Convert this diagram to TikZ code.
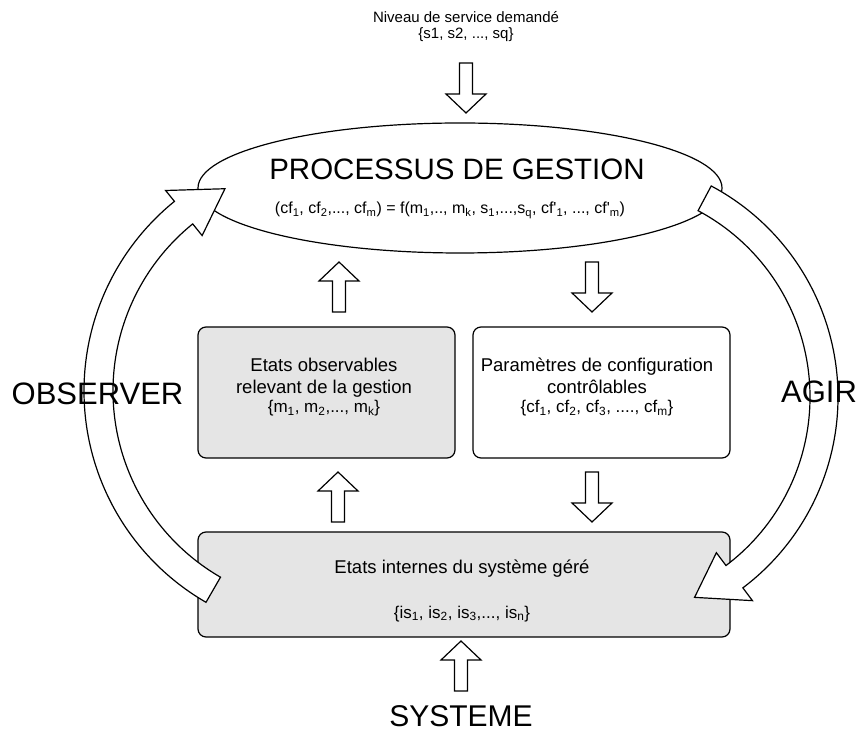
\documentclass[tikz,border=0pt]{standalone}
\usepackage{fontspec}
\setmainfont{Liberation Sans}
\usetikzlibrary{shapes.geometric}
\newcommand{\fs}[2]{\fontsize{#1}{#2}\selectfont}
\newcommand{\ix}[1]{\textsubscript{#1}}
\tikzset{
  shp/.style={draw,line width=1.2pt,fill=white},
  box/.style={shp,rounded corners=8pt,fill=black!10,inner sep=0pt},
  upblk/.pic={\draw[shp,line join=miter] (-6.5,0)--(-6.5,31)--(-20,31)--(0,50)--(20,31)--(6.5,31)--(6.5,0)--cycle;},
  big/.style={font=\fs{31}{36},anchor=base,inner sep=1pt},
  mid/.style={font=\fs{18.5}{22},anchor=base},
  set/.style={font=\fs{17}{20},anchor=base},
}
\begin{document}
\begin{tikzpicture}[x=1pt,y=1pt]
\useasboundingbox (0,0) rectangle (858,733);
\node[font=\fs{15}{18},anchor=base] (niv1) at (466,710) {Niveau de service demandé};
\node[font=\fs{15}{18},anchor=base] (niv2) at (466,694) {\{s1, s2, ..., sq\}};
\pic[rotate=180] at (466,670) {upblk};
% processus de gestion
\node[shp,ellipse,minimum width=524pt,minimum height=130pt,inner sep=0pt] (proc) at (460,545) {};
\node[font=\fs{29.5}{34},anchor=base] (proct) at (457,553) {PROCESSUS DE GESTION};
\node[font=\fs{16}{19},anchor=base] (form) at (450,519)
  {(cf\ix1, cf\ix2,..., cf\ix{m}) = f(m\ix1,.., m\ix{k}, s\ix1,...,s\ix{q}, cf\textquotesingle\ix1, ..., cf\textquotesingle\ix{m})};
\pic at (339,421) {upblk};
\pic[rotate=180] at (592,471) {upblk};
% boites
\node[box,minimum width=257pt,minimum height=131pt] (obs) at (326.5,340.5) {};
\node[box,fill=white,minimum width=257pt,minimum height=131pt] (cfg) at (601.5,340.5) {};
\node[mid] (obs1) at (324,361) {Etats observables};
\node[mid] (obs2) at (324,339) {relevant de la gestion};
\node[set] (obs3) at (324,320) {\{m\ix1, m\ix2,..., m\ix{k}\}};
\node[mid] (cfg1) at (597,361) {Paramètres de configuration};
\node[mid] (cfg2) at (597,339) {contrôlables};
\node[set] (cfg3) at (597,320) {\{cf\ix1, cf\ix2, cf\ix3, ...., cf\ix{m}\}};
\pic at (338,211) {upblk};
\pic[rotate=180] at (592,261) {upblk};
\node[box,minimum width=532pt,minimum height=105pt] (sys) at (464,148.5) {};
\node[mid] (sys1) at (462,159) {Etats internes du système géré};
\node[set] (sys2) at (462,115) {\{is\ix1, is\ix2, is\ix3,..., is\ix{n}\}};
\pic at (461,42) {upblk};
% fleches courbes
\coordinate (cobs) at (328,342);
\coordinate (cagi) at (599,336);
\draw[shp,line join=miter,shift={(cobs)}] (240:244pt) arc[start angle=240,end angle=129,radius=244pt]
  -- (129:258pt) -- (117:227pt) -- (129:200pt) -- (129:215pt)
  arc[start angle=129,end angle=240,radius=215pt] -- cycle;
\draw[shp,line join=miter,shift={(cagi)}] (62:239pt) arc[start angle=62,end angle=-53,radius=239pt]
  -- (-53:255pt) -- (-64.5:222pt) -- (-53:195pt) -- (-53:211pt)
  arc[start angle=-53,end angle=62,radius=211pt] -- cycle;
\node[big] (obsv) at (97.5,328) {OBSERVER};
\node[big] (agir) at (819,330) {AGIR};
\node[big,font=\fs{30}{36}] (syst) at (461,7) {SYSTEME};
\end{tikzpicture}
\end{document}
